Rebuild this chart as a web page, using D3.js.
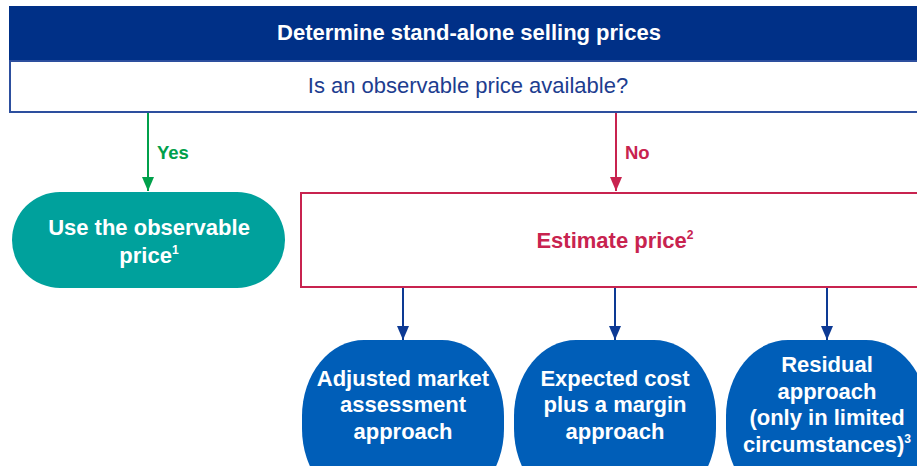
<!DOCTYPE html>
<html>
<head>
<meta charset="utf-8">
<script src="https://cdn.jsdelivr.net/npm/d3@7"></script>
<style>
  html, body { margin: 0; padding: 0; background: #fff; }
  svg { display: block; font-family: "Liberation Sans", Arial, sans-serif; }
</style>
</head>
<body>
<div id="chart"></div>
<script>
const W = 917, H = 466;

// text content of the flowchart
const title = "Determine stand-alone selling prices";
const question = "Is an observable price available?";
const branchLabels = ["Yes", "No"];
const observedLines = [["Use the observable"], ["price", "1"]];
const estimateLabel = ["Estimate price", "2"];
const methods = ["market", "cost", "residual"];
const methodLines = [
  [["Adjusted market"], ["assessment"], ["approach"]],
  [["Expected cost"], ["plus a margin"], ["approach"]],
  [["Residual"], ["approach"], ["(only in limited"], ["circumstances)", "3"]]
];

const colors = {
  navy: "#003087",
  qText: "#1d3d8f",
  qBorder: "#2d4f9e",
  green: "#00a04b",
  teal: "#00a19c",
  crimson: "#c8234f",
  blue: "#005eb8",
  arrowBlue: "#0d3a94"
};

const svg = d3.select("#chart").append("svg")
  .attr("width", W).attr("height", H);

const defs = svg.append("defs");
function marker(id, color) {
  defs.append("marker")
    .attr("id", id)
    .attr("viewBox", "0 -6 14 12")
    .attr("refX", 14).attr("refY", 0)
    .attr("markerUnits", "userSpaceOnUse")
    .attr("markerWidth", 14).attr("markerHeight", 12)
    .attr("orient", "auto")
    .append("path")
    .attr("d", "M0,-6L14,0L0,6Z")
    .attr("fill", color);
}
marker("arrGreen", colors.green);
marker("arrRed", colors.crimson);
marker("arrBlue", colors.arrowBlue);

// writes lines of text, optional superscript as 2nd entry
function writeLines(g, lines, x, y0, lh, size, color, weight) {
  lines.forEach((ln, i) => {
    const t = g.append("text")
      .attr("x", x).attr("y", y0 + i * lh)
      .attr("text-anchor", "middle")
      .attr("font-size", size)
      .attr("font-weight", weight)
      .attr("fill", color);
    t.append("tspan").text(ln[0]);
    if (ln[1]) {
      t.append("tspan")
        .attr("font-size", size * 0.55)
        .attr("dy", -size * 0.42)
        .text(ln[1]);
    }
  });
}

// header bars
svg.append("rect")
  .attr("x", 9).attr("y", 6).attr("width", 940).attr("height", 55)
  .attr("fill", colors.navy);
svg.append("text")
  .attr("x", 469).attr("y", 40)
  .attr("text-anchor", "middle")
  .attr("font-size", 22).attr("font-weight", "bold")
  .attr("fill", "#fff")
  .text(title);

svg.append("rect")
  .attr("x", 10).attr("y", 61).attr("width", 940).attr("height", 51)
  .attr("fill", "#fff")
  .attr("stroke", colors.qBorder).attr("stroke-width", 2);
svg.append("text")
  .attr("x", 468).attr("y", 93)
  .attr("text-anchor", "middle")
  .attr("font-size", 22)
  .attr("fill", colors.qText)
  .text(question);

// yes / no branches
const branches = [
  { x: 148, color: colors.green, m: "arrGreen", label: branchLabels[0] },
  { x: 616, color: colors.crimson, m: "arrRed", label: branchLabels[1] }
];
branches.forEach(b => {
  svg.append("line")
    .attr("x1", b.x).attr("y1", 113).attr("x2", b.x).attr("y2", 191)
    .attr("stroke", b.color).attr("stroke-width", 2)
    .attr("marker-end", `url(#${b.m})`);
  svg.append("text")
    .attr("x", b.x + 9).attr("y", 159)
    .attr("font-size", 18.5).attr("font-weight", "bold")
    .attr("fill", b.color)
    .text(b.label);
});

// observable price pill
svg.append("rect")
  .attr("x", 12).attr("y", 192).attr("width", 273).attr("height", 96)
  .attr("rx", 48).attr("ry", 48)
  .attr("fill", colors.teal);
writeLines(svg, observedLines, 149, 235, 28, 22, "#fff", "bold");

// estimate box
svg.append("rect")
  .attr("x", 301).attr("y", 193).attr("width", 640).attr("height", 94)
  .attr("fill", "#fff")
  .attr("stroke", colors.crimson).attr("stroke-width", 2);
writeLines(svg, [estimateLabel], 615, 248, 0, 22, colors.crimson, "bold");

// method nodes
const x = d3.scalePoint().domain(methods).range([403, 827]);
const nodeW = 202;

methods.forEach((m, i) => {
  const cx = x(m);
  svg.append("line")
    .attr("x1", cx).attr("y1", 288).attr("x2", cx).attr("y2", 340)
    .attr("stroke", colors.arrowBlue).attr("stroke-width", 2)
    .attr("marker-end", "url(#arrBlue)");
  svg.append("rect")
    .attr("x", cx - nodeW / 2).attr("y", 340)
    .attr("width", nodeW).attr("height", 165)
    .attr("rx", 62).attr("ry", 76)
    .attr("fill", colors.blue);
  const lines = methodLines[i];
  const lh = 26.5;
  const y0 = 405 - (lines.length - 1) * lh / 2 + 7;
  writeLines(svg, lines, cx, y0, lh, 22, "#fff", "bold");
});
</script>
</body>
</html>
